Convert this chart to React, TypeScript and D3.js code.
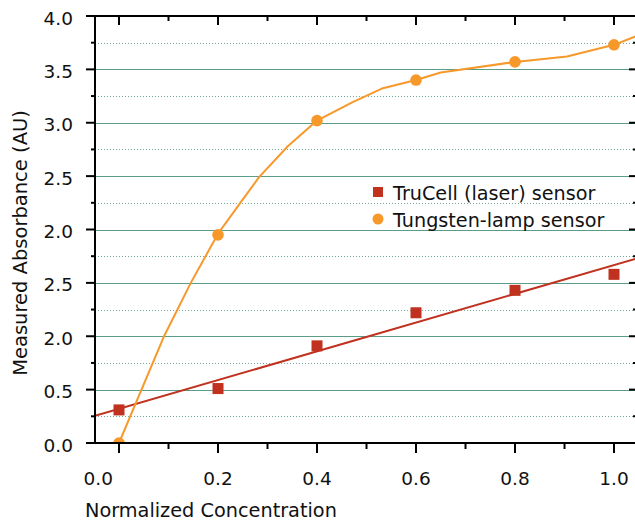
import React from "react";
import * as d3 from "d3";

const concentrations = [0, 0.2, 0.4, 0.6, 0.8, 1.0];
const trucellValues = [0.31, 0.51, 0.91, 1.22, 1.43, 1.58];
const tungstenValues = [0.0, 1.95, 3.02, 3.4, 3.57, 3.73];
const tungstenFitX = [0, 0.09, 0.145, 0.2, 0.245, 0.283, 0.341, 0.4, 0.471, 0.531, 0.6, 0.65, 0.8, 0.905, 1.0, 1.05];
const tungstenFitY = [0, 0.99, 1.5, 1.96, 2.25, 2.49, 2.78, 3.02, 3.19, 3.32, 3.4, 3.47, 3.57, 3.62, 3.73, 3.82];

const xMajorTicks = [0, 0.2, 0.4, 0.6, 0.8, 1.0];
const xMinorTicks = [0.1, 0.3, 0.5, 0.7, 0.9];
const xTickLabels = ["0.0", "0.2", "0.4", "0.6", "0.8", "1.0"];
const xTickLabelPos = [-0.042, 0.2, 0.4, 0.6, 0.8, 1.0];
const yMajorTicks = [0, 0.5, 1, 1.5, 2, 2.5, 3, 3.5, 4];
const yMinorTicks = [0.25, 0.75, 1.25, 1.75, 2.25, 2.75, 3.25, 3.75];
const yTickLabels = ["0.0", "0.5", "2.0", "2.5", "2.0", "2.5", "3.0", "3.5", "4.0"];

const RED = "#c0321f";
const ORANGE = "#f7982a";
const GRID = "#5a9c88";
const GRID_MINOR = "#6fab99";
const FONT = "'DejaVu Sans', Verdana, sans-serif";

export default function App() {
  const W = 635, H = 521;
  const left = 95, right = 635, top = 16, bottom = 443;
  const x = d3.scaleLinear().domain([-0.0485, 1.0424]).range([left, right]);
  const y = d3.scaleLinear().domain([0, 4]).range([bottom, top]);

  // least squares fit for TruCell
  const mx = d3.mean(concentrations)!;
  const my = d3.mean(trucellValues)!;
  let sxy = 0, sxx = 0;
  concentrations.forEach((c, i) => {
    sxy += (c - mx) * (trucellValues[i] - my);
    sxx += (c - mx) * (c - mx);
  });
  const slope = sxy / sxx;
  const intercept = my - slope * mx;
  const [x0, x1] = x.domain();
  const fitLine = d3.line<[number, number]>().x(d => x(d[0])).y(d => y(d[1]))([
    [x0, intercept + slope * x0],
    [x1 + 0.02, intercept + slope * (x1 + 0.02)],
  ]);
  const tungstenLine = d3
    .line<number>()
    .x((_, i) => x(tungstenFitX[i]))
    .y(d => y(d))(tungstenFitY);

  return (
    <svg width={W} height={H} style={{ position: "absolute", left: 0, top: 0, background: "#fff" }} fontFamily={FONT}>
      <defs>
        <clipPath id="plot">
          <rect x={left} y={top} width={right - left + 2} height={bottom - top} />
        </clipPath>
      </defs>
      {/* gridlines */}
      {yMinorTicks.map(t => (
        <line key={"gm" + t} x1={left} x2={right} y1={Math.round(y(t)) + 0.5} y2={Math.round(y(t)) + 0.5}
          stroke={GRID_MINOR} strokeWidth={1} strokeDasharray="1,2" />
      ))}
      {yMajorTicks.filter(t => t > 0 && t < 4).map(t => (
        <line key={"gM" + t} x1={left} x2={right} y1={Math.round(y(t)) + 0.5} y2={Math.round(y(t)) + 0.5}
          stroke={GRID} strokeWidth={1.2} />
      ))}
      {/* data */}
      <g clipPath="url(#plot)">
        <path d={fitLine!} fill="none" stroke={RED} strokeWidth={2} />
        <path d={tungstenLine!} fill="none" stroke={ORANGE} strokeWidth={2} strokeLinejoin="round" />
        {concentrations.map((c, i) => (
          <rect key={"s" + i} x={x(c) - 5.5} y={y(trucellValues[i]) - 5.5} width={11} height={11} fill={RED} />
        ))}
        {concentrations.map((c, i) => (
          <circle key={"c" + i} cx={x(c)} cy={y(tungstenValues[i])} r={5.8} fill={ORANGE} />
        ))}
      </g>
      {/* axes */}
      <g stroke="#000" strokeWidth={2}>
        <line x1={left} x2={left} y1={top - 1} y2={bottom + 1} />
        <line x1={left - 1} x2={right + 2} y1={bottom} y2={bottom} />
        <line x1={left - 1} x2={right + 2} y1={top} y2={top} />
        <line x1={right + 2} x2={right + 2} y1={top} y2={bottom} />
        {yMajorTicks.map(t => (
          <line key={"ly" + t} x1={left - 9} x2={left} y1={y(t)} y2={y(t)} />
        ))}
        {yMinorTicks.map(t => (
          <line key={"lym" + t} x1={left - 4} x2={left} y1={y(t)} y2={y(t)} />
        ))}
        {yMajorTicks.map(t => (
          <line key={"ry" + t} x1={right - 6} x2={right + 2} y1={y(t)} y2={y(t)} />
        ))}
        {yMinorTicks.map(t => (
          <line key={"rym" + t} x1={right - 2} x2={right + 2} y1={y(t)} y2={y(t)} />
        ))}
        {xMajorTicks.map(t => (
          <g key={"xt" + t}>
            <line x1={x(t)} x2={x(t)} y1={bottom} y2={bottom + 10} />
            <line x1={x(t)} x2={x(t)} y1={top} y2={top + 9} />
          </g>
        ))}
        {xMinorTicks.map(t => (
          <g key={"xm" + t}>
            <line x1={x(t)} x2={x(t)} y1={bottom} y2={bottom + 6} />
            <line x1={x(t)} x2={x(t)} y1={top} y2={top + 5} />
          </g>
        ))}
      </g>
      {/* tick labels */}
      {yMajorTicks.map((t, i) => (
        <text key={"yl" + t} x={73} y={y(t) + 8.5} textAnchor="end" fontSize={18.5} fill="#111">
          {yTickLabels[i]}
        </text>
      ))}
      {xTickLabelPos.map((p, i) => (
        <text key={"xl" + i} x={x(p)} y={485} textAnchor="middle" fontSize={18.5} fill="#111">
          {xTickLabels[i]}
        </text>
      ))}
      {/* titles */}
      <text x={85} y={517} fontSize={19.3} fill="#111">Normalized Concentration</text>
      <text transform={`translate(27,243) rotate(-90)`} textAnchor="middle" fontSize={19.5} fill="#111">
        Measured Absorbance (AU)
      </text>
      {/* legend */}
      <rect x={373} y={187} width={10} height={10} fill={RED} />
      <text x={393} y={200} fontSize={19.2} fill="#111">TruCell (laser) sensor</text>
      <circle cx={378} cy={219} r={5.5} fill={ORANGE} />
      <text x={393} y={227} fontSize={19.2} fill="#111">Tungsten-lamp sensor</text>
    </svg>
  );
}
